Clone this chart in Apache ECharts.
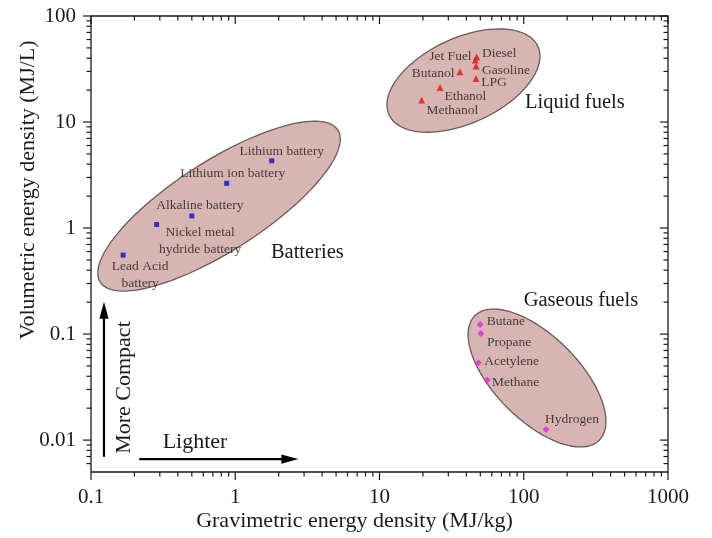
<!DOCTYPE html>
<html><head><meta charset="utf-8">
<script src="https://cdn.jsdelivr.net/npm/echarts@6/dist/echarts.min.js"></script>
<style>html,body{margin:0;padding:0;background:#fff}#c{width:712px;height:538px}</style>
</head><body><div id="c"></div>
<script>
// ---------------- data ----------------
const batteryNames = ['Lead Acid\nbattery', 'Nickel metal\nhydride battery', 'Alkaline battery', 'Lithium ion battery', 'Lithium battery'];
const batteryGrav  = [0.167, 0.285, 0.50, 0.873, 1.79];
const batteryVol   = [0.556, 1.08, 1.30, 2.64, 4.31];

const liquidNames = ['Diesel', 'Jet Fuel', 'Gasoline', 'LPG', 'Butanol', 'Ethanol', 'Methanol'];
const liquidGrav  = [47.2, 46.1, 46.7, 46.7, 36.1, 26.3, 19.6];
const liquidVol   = [41.3, 38.5, 33.7, 25.8, 29.8, 21.2, 16.1];

const gasNames = ['Butane', 'Propane', 'Acetylene', 'Methane', 'Hydrogen'];
const gasGrav  = [49.8, 50.4, 48.4, 55.8, 142.6];
const gasVol   = [0.123, 0.101, 0.0536, 0.0368, 0.0126];

const groupNames = ['Batteries', 'Liquid fuels', 'Gaseous fuels'];

const xTickLabels = ['0.1', '1', '10', '100', '1000'];
const yTickLabels = ['0.01', '0.1', '1', '10', '100'];

// ---------------- style / layout ----------------
const FONT = '"Liberation Serif", "Times New Roman", serif';
const INK = '#1a1a1a';
const X_MIN = 0.1, X_MAX = 1000, Y_MIN = 0.005, Y_MAX = 100;

const labelOffsets = {
  'Lead Acid\nbattery': [17, 19.5], 'Nickel metal\nhydride battery': [43.5, 16],
  'Alkaline battery': [8, -11], 'Lithium ion battery': [6, -9.5], 'Lithium battery': [10, -9],
  'Diesel': [22.5, -3.4], 'Jet Fuel': [-24.8, -3.3], 'Gasoline': [30, 4], 'LPG': [18, 4],
  'Butanol': [-26.7, 1.7], 'Ethanol': [25.3, 9.3], 'Methanol': [30.8, 10],
  'Butane': [25.8, -3.5], 'Propane': [28.3, 8.4], 'Acetylene': [33.4, -1], 'Methane': [28.5, 2.5], 'Hydrogen': [26, -10.3]
};

// group title anchors (data units)
const groupAnchors = { 'Batteries': [3.16, 0.581], 'Liquid fuels': [226, 15.1], 'Gaseous fuels': [249, 0.209] };

// group regions: centre (log10 units) and conjugate semi-axes in decades
const regions = [
  { c: [-0.1124, 0.2068], u: [0.8236, 0.717], v: [0.168, -0.3575] },
  { c: [1.582, 1.391], u: [0.5158, 0.3227], v: [0.1234, -0.3651] },
  { c: [2.092, -1.4145], u: [0.4313, -0.587], v: [0.2059, 0.2802] }
];

function pts(xs, ys, names) {
  return xs.map((x, i) => ({ name: names[i], value: [x, ys[i]],
    label: { offset: labelOffsets[names[i]] } }));
}

// tick data
const xMajor = xTickLabels.map(Number);
const yMajor = yTickLabels.map(Number);
const tickData = [];
xMajor.forEach(v => tickData.push([v, Y_MIN, 0, 1]));
yMajor.forEach(v => tickData.push([X_MIN, v, 1, 1]));
for (let e = -1; e < 3; e++) for (let k = 2; k <= 9; k++) tickData.push([k * Math.pow(10, e), Y_MIN, 0, 0]);
for (let e = -3; e < 2; e++) for (let k = 2; k <= 9; k++) {
  const v = k * Math.pow(10, e);
  if (v > Y_MIN * 1.0001 && v < Y_MAX) tickData.push([X_MIN, v, 1, 0]);
}

function fmt(labels, majors) {
  return function (val) {
    for (let i = 0; i < majors.length; i++) {
      if (Math.abs(Math.log10(val) - Math.log10(majors[i])) < 1e-6) return labels[i];
    }
    return '';
  };
}

const tickStyle = { stroke: INK, lineWidth: 1.2 };
function renderTick(params, api) {
  const kind = api.value(2), major = api.value(3) === 1;
  const len = major ? 8 : 4.5;
  if (kind === 0) {
    const v = api.value(0);
    const b = api.coord([v, Y_MIN]), t = api.coord([v, Y_MAX]);
    return { type: 'group', children: [
      { type: 'line', shape: { x1: b[0], y1: b[1], x2: b[0], y2: b[1] + len }, style: tickStyle },
      { type: 'line', shape: { x1: t[0], y1: t[1], x2: t[0], y2: t[1] + len }, style: tickStyle }
    ] };
  } else {
    const v = api.value(1);
    const l = api.coord([X_MIN, v]), r = api.coord([X_MAX, v]);
    return { type: 'group', children: [
      { type: 'line', shape: { x1: l[0], y1: l[1], x2: l[0] - len, y2: l[1] }, style: tickStyle },
      { type: 'line', shape: { x1: r[0], y1: r[1], x2: r[0] - len, y2: r[1] }, style: tickStyle }
    ] };
  }
}

function renderRegion(params, api) {
  const r = regions[params.dataIndex];
  const points = [];
  for (let k = 0; k < 96; k++) {
    const t = 2 * Math.PI * k / 96;
    const lx = r.c[0] + r.u[0] * Math.cos(t) + r.v[0] * Math.sin(t);
    const ly = r.c[1] + r.u[1] * Math.cos(t) + r.v[1] * Math.sin(t);
    points.push(api.coord([Math.pow(10, lx), Math.pow(10, ly)]));
  }
  return { type: 'polygon', shape: { points: points },
    style: { fill: '#d7b6b2', stroke: '#6a5a5a', lineWidth: 1.3 } };
}

const arrows = [
  { from: [0.123, 0.00695], to: [0.123, 0.202], text: 'More Compact', at: [0.169, 0.0313], rot: Math.PI / 2 },
  { from: [0.216, 0.00662], to: [2.74, 0.00662], text: 'Lighter', at: [0.526, 0.00957], rot: 0 }
];
function renderArrow(params, api) {
  const a = arrows[params.dataIndex];
  const p0 = api.coord(a.from), p1 = api.coord(a.to), tp = api.coord(a.at);
  const dx = p1[0] - p0[0], dy = p1[1] - p0[1], L = Math.hypot(dx, dy);
  const ux = dx / L, uy = dy / L, hl = 17, hw = 4.6;
  const bx = p1[0] - ux * hl, by = p1[1] - uy * hl;
  return { type: 'group', children: [
    { type: 'line', shape: { x1: p0[0], y1: p0[1], x2: bx + ux * 2, y2: by + uy * 2 }, style: { stroke: '#000', lineWidth: 2.2 } },
    { type: 'polygon', shape: { points: [[p1[0], p1[1]], [bx - uy * hw, by + ux * hw], [bx + uy * hw, by - ux * hw]] }, style: { fill: '#000' } },
    { type: 'text', x: tp[0], y: tp[1], rotation: a.rot,
      style: { text: a.text, font: '22px ' + FONT, fill: INK, align: 'center', verticalAlign: 'middle' } }
  ] };
}

function renderGroupTitle(params, api) {
  const p = api.coord([api.value(0), api.value(1)]);
  return { type: 'text', x: p[0], y: p[1],
    style: { text: groupNames[params.dataIndex], font: '20.5px ' + FONT, fill: INK, align: 'center', verticalAlign: 'middle' } };
}

const pointLabel = { show: true, position: 'inside', fontFamily: FONT, fontSize: 13.5, color: INK, lineHeight: 17, formatter: p => p.name };

const option = {
  animation: false,
  grid: { left: 91, right: 44, top: 16, bottom: 66, show: true, borderColor: INK, borderWidth: 1.3 },
  xAxis: { type: 'log', logBase: 10, min: X_MIN, max: X_MAX,
    axisLine: { show: false }, axisTick: { show: false }, splitLine: { show: false },
    axisLabel: { fontFamily: FONT, fontSize: 21, color: INK, margin: 15, showMinLabel: true, showMaxLabel: true, formatter: fmt(xTickLabels, xMajor) } },
  yAxis: { type: 'log', logBase: 10, min: Y_MIN, max: Y_MAX,
    axisLine: { show: false }, axisTick: { show: false }, splitLine: { show: false },
    axisLabel: { fontFamily: FONT, fontSize: 21, color: INK, margin: 15, showMinLabel: true, showMaxLabel: true, formatter: fmt(yTickLabels, yMajor) } },
  graphic: [
    { type: 'text', x: 354.5, y: 521, style: { text: 'Gravimetric energy density (MJ/kg)', font: '22px ' + FONT, fill: INK, align: 'center', verticalAlign: 'middle' } },
    { type: 'text', x: 28, y: 190, rotation: Math.PI / 2, style: { text: 'Volumetric energy density (MJ/L)', font: '22px ' + FONT, fill: INK, align: 'center', verticalAlign: 'middle' } }
  ],
  series: [
    { type: 'custom', name: 'regions', clip: false, z: 1, renderItem: renderRegion, data: regions.map(r => [Math.pow(10, r.c[0]), Math.pow(10, r.c[1])]), silent: true },
    { type: 'custom', name: 'ticks', clip: false, z: 5, renderItem: renderTick, data: tickData, silent: true },
    { type: 'custom', name: 'arrows', clip: false, z: 4, renderItem: renderArrow, data: arrows.map(a => a.from), silent: true },
    { type: 'custom', name: 'group titles', clip: false, z: 4, renderItem: renderGroupTitle, data: groupNames.map(n => groupAnchors[n]), silent: true },
    { type: 'scatter', name: 'Batteries', z: 3, symbol: 'rect', symbolSize: 5, itemStyle: { color: '#0b0be0' },
      label: pointLabel, data: pts(batteryGrav, batteryVol, batteryNames) },
    { type: 'scatter', name: 'Liquid fuels', z: 3, symbol: 'triangle', symbolSize: 7, itemStyle: { color: '#ee1111' },
      label: pointLabel, data: pts(liquidGrav, liquidVol, liquidNames) },
    { type: 'scatter', name: 'Gaseous fuels', z: 3, symbol: 'diamond', symbolSize: 7, itemStyle: { color: '#e622e6' },
      label: pointLabel, data: pts(gasGrav, gasVol, gasNames) }
  ]
};

const chart = echarts.init(document.getElementById('c'), null, { renderer: 'canvas' });
chart.setOption(option);
</script></body></html>
